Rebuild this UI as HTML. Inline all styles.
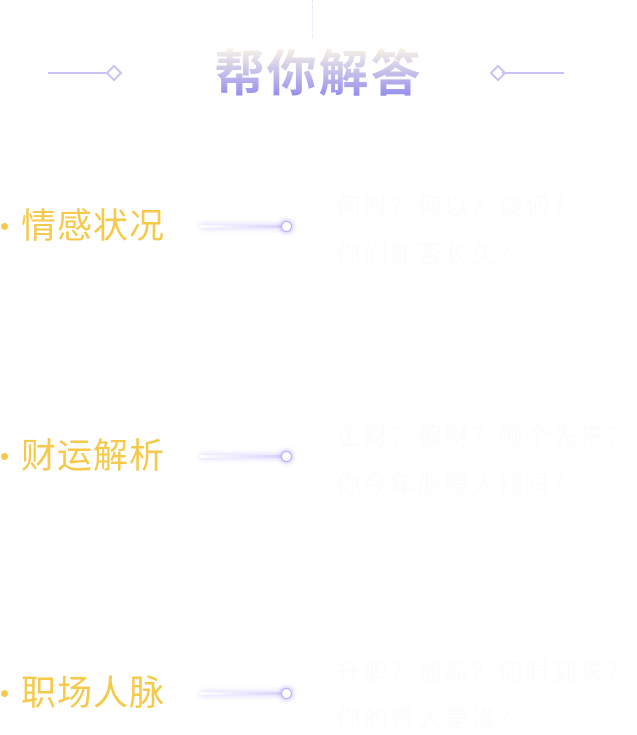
<!DOCTYPE html>
<html><head><meta charset="utf-8"><style>
body{margin:0;width:637px;height:735px;background:#fff;position:relative;overflow:hidden;font-family:"Liberation Sans","Noto Sans CJK SC",sans-serif}
.a{position:absolute}
.title{left:0;width:637px;top:42px;text-align:center;font-size:50px;font-weight:bold;line-height:64px;letter-spacing:2px;background:linear-gradient(#f8f3e6 10%,#8c86ee 90%);-webkit-background-clip:text;background-clip:text;color:transparent}
.lab{left:21px;font-size:35px;color:#f6c94a;line-height:40px;letter-spacing:1px}
.dot{left:1px;width:7px;height:7px;border-radius:50%;background:#f6c94a}
.ln{left:200px;width:84px;height:3px;background:linear-gradient(90deg,rgba(200,190,255,0),#d8d0ff);box-shadow:0 0 6px #c8c0ff}
.cir{left:281px;width:9px;height:9px;border-radius:50%;background:#fff;border:1px solid #b9afff;box-shadow:0 0 6px #a99cff}
.t{left:336px;font-size:25px;color:#fcfcfc;line-height:30px;letter-spacing:2px}
.hl{height:2px;width:62px;background:#c9c2f4}
.dm{width:8px;height:8px;border:2px solid #c9c2f4;transform:rotate(45deg);background:#fff}
</style></head><body>
<div class="a" style="left:312px;top:0;height:38px;border-left:1px dotted #dedcf8"></div>
<div class="a title">帮你解答</div>
<div class="a hl" style="left:48px;top:72px"></div>
<div class="a dm" style="left:108px;top:67px"></div>
<div class="a dm" style="left:492px;top:67px"></div>
<div class="a hl" style="left:502px;top:72px"></div>

<div class="a dot" style="top:223px"></div>
<div class="a lab" style="top:207px">情感状况</div>
<div class="a ln" style="top:225px"></div><div class="a cir" style="top:221px"></div>
<div class="a t" style="top:192px">何时？何以？谈何？</div>
<div class="a t" style="top:240px">你们能否长久？</div>

<div class="a dot" style="top:453px"></div>
<div class="a lab" style="top:437px">财运解析</div>
<div class="a ln" style="top:455px"></div><div class="a cir" style="top:451px"></div>
<div class="a t" style="top:422px">正财？偏财？哪个先来？</div>
<div class="a t" style="top:470px">你今年能赚大钱吗？</div>

<div class="a dot" style="top:690px"></div>
<div class="a lab" style="top:674px">职场人脉</div>
<div class="a ln" style="top:692px"></div><div class="a cir" style="top:688px"></div>
<div class="a t" style="top:658px">升职？加薪？何时到来？</div>
<div class="a t" style="top:704px">你的贵人是谁？</div>
</body></html>
